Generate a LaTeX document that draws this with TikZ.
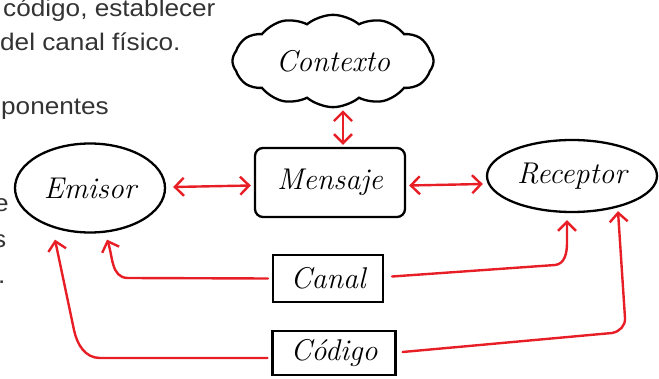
\documentclass[tikz,border=0pt]{standalone}
\usepackage{fontspec}
\newfontfamily\pagefont{Liberation Sans}[FakeStretch=1.09]
\usetikzlibrary{shapes.geometric,shapes.symbols,arrows.meta}
\definecolor{penred}{RGB}{232,30,38}
\definecolor{pagegray}{RGB}{51,51,51}
\begin{document}
\begin{tikzpicture}[x=1pt, y=1pt, >={Straight Barb[length=9pt,width=18pt]},
    every node/.style = {align=center, font=\fontsize{30}{34}\selectfont\itshape},
    hand/.style = {draw, line width=2.3pt, inner sep=0pt},
    link/.style = {draw=penred, line width=2.4pt, line cap=round, line join=round},
    pagetext/.style = {anchor=base west, inner sep=0pt, text=pagegray, font=\fontsize{24}{28}\selectfont\pagefont}]
    \clip (0,0) rectangle (659,378);
    % text of the page, cut at the left
    \node[pagetext] (t1) at (3,361) {código, establecer};
    \node[pagetext] (t2) at (0,327) {del canal físico.};
    \node[pagetext] (t3) at (1,263) {ponentes};
    \node[pagetext] (t4) at (-6,166) {e};
    \node[pagetext] (t5) at (-7,130) {s};
    \node[pagetext] (t6) at (-2,95) {.};
    % the diagram
    \node[hand, cloud, cloud puffs=12, cloud puff arc=80, cloud ignores aspect,
          inner xsep=14pt, inner ysep=16pt] (ctx) at (333,317) {Contexto};
    \node[hand, rectangle, rounded corners=8pt, minimum width=150pt, minimum height=69pt] (msg) at (330,195.5) {Mensaje};
    \node[hand, ellipse, minimum width=150pt, minimum height=89pt] (emi) at (90,190) {Emisor};
    \node[hand, ellipse, minimum width=170pt, minimum height=72pt] (rec) at (572,202) {Receptor};
    \node[hand, rectangle, minimum width=110pt, minimum height=47pt] (can) at (328,99.5) {Canal};
    \node[hand, rectangle, minimum width=123pt, minimum height=44pt] (cod) at (334,25) {Código};
    \draw[link, <->] ([xshift=10pt,yshift=-2pt]ctx.south) -- ([xshift=13pt,yshift=2pt]msg.north);
    \draw[link, <->] ([xshift=7pt,yshift=1pt]emi.east) -- ([xshift=-3pt,yshift=-3pt]msg.west);
    \draw[link, <->] ([xshift=3pt,yshift=-3pt]msg.east) -- ([xshift=-3pt,yshift=-8pt]rec.west);
    \draw[link, ->] ([xshift=-4pt]can.west) -- (128,100) to[out=180,in=-70] ([xshift=17pt,yshift=-6pt]emi.south);
    \draw[link, ->] ([xshift=8pt,yshift=2pt]can.east) -- (555,113) to[out=5,in=-90] (567,135) -- ([xshift=-5pt,yshift=-7pt]rec.south);
    \draw[link, ->] ([xshift=-4pt,yshift=-5pt]cod.west) -- (100,20) to[out=180,in=-78] (74,48) -- ([xshift=-35pt,yshift=-6pt]emi.south);
    \draw[link, ->] ([xshift=6pt,yshift=1pt]cod.east) -- (612,45) to[out=10,in=-86] (625,60) -- ([xshift=46pt,yshift=2pt]rec.south);
\end{tikzpicture}
\end{document}
